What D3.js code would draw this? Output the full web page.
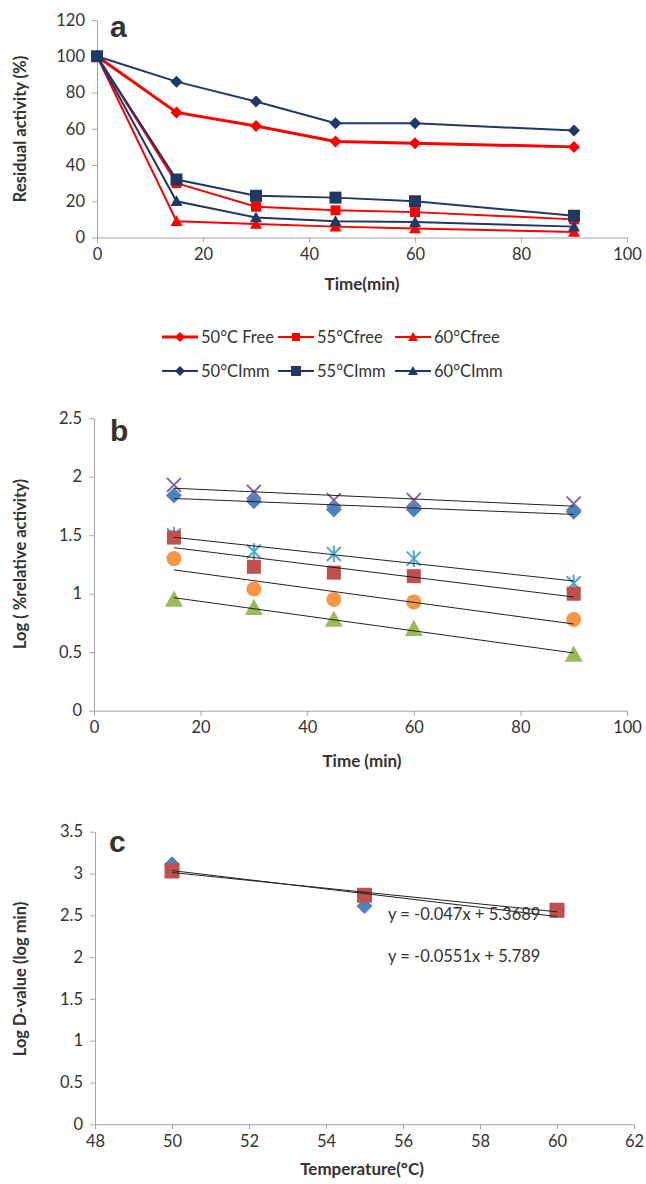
<!DOCTYPE html>
<html>
<head>
<meta charset="utf-8">
<script src="https://cdn.jsdelivr.net/npm/d3@7"></script>
<style>
  body { margin: 0; background: #fff; }
  svg { display: block; }
  text { font-family: Lato, "Open Sans", sans-serif; fill: #333; }
</style>
</head>
<body>
<svg id="chart" width="646" height="1184"></svg>
<script>
// panel a - residual activity
var timeA = [0, 15, 30, 45, 60, 90];
var namesA = ["50°C Free", "55°Cfree", "60°Cfree", "50°CImm", "55°CImm", "60°CImm"];
var free50 = [100, 69, 61.5, 53, 52, 50];
var free55 = [100, 30, 17, 15, 14, 10];
var free60 = [100, 9, 7.5, 6, 5, 3];
var imm50 = [100, 86, 75, 63, 63, 59];
var imm55 = [100, 32, 23, 22, 20, 12];
var imm60 = [100, 20, 11, 9, 8.5, 6];
var ticksA_y = [0, 20, 40, 60, 80, 100, 120];
var ticksA_x = [0, 20, 40, 60, 80, 100];

// panel b - log(% relative activity)
var timeB = [15, 30, 45, 60, 90];
var logFree50 = [1.84, 1.79, 1.72, 1.72, 1.70];
var logFree55 = [1.48, 1.23, 1.18, 1.15, 1.00];
var logFree60 = [0.95, 0.88, 0.78, 0.70, 0.48];
var logImm50 = [1.93, 1.87, 1.80, 1.80, 1.77];
var logImm55 = [1.50, 1.36, 1.34, 1.30, 1.09];
var logImm60 = [1.30, 1.04, 0.95, 0.93, 0.78];
var ticksB_y = [0, 0.5, 1, 1.5, 2, 2.5];
var ticksB_x = [0, 20, 40, 60, 80, 100];

// panel c - log D-value
var tempC = [50, 55, 60];
var logD1 = [3.11, 2.61, 2.56];
var logD2 = [3.03, 2.74, 2.56];
var equations = ["y = -0.047x + 5.3689", "y = -0.0551x + 5.789"];
var ticksC_y = [0, 0.5, 1, 1.5, 2, 2.5, 3, 3.5];
var ticksC_x = [48, 50, 52, 54, 56, 58, 60, 62];

var red = "#FF0000", navy = "#1F3864";
var svg = d3.select("#chart");

// marker shapes
function marker(type, r) {
  if (type == "diamond") return "M0," + (-r) + "L" + r + ",0L0," + r + "L" + (-r) + ",0Z";
  if (type == "square") return "M" + (-r) + "," + (-r) + "h" + (2*r) + "v" + (2*r) + "h" + (-2*r) + "Z";
  if (type == "triangle") return "M0," + (-r) + "L" + r + "," + (r*0.8) + "L" + (-r) + "," + (r*0.8) + "Z";
  if (type == "circle") return d3.symbol(d3.symbolCircle, Math.PI*r*r)();
  if (type == "x") return "M" + (-r) + "," + (-r) + "L" + r + "," + r + "M" + (-r) + "," + r + "L" + r + "," + (-r);
  if (type == "star") return "M" + (-r) + "," + (-r) + "L" + r + "," + r + "M" + (-r) + "," + r + "L" + r + "," + (-r) + "M0," + (-r*1.2) + "L0," + (r*1.2);
}

function drawAxes(x, y, xt, yt) {
  var gx = svg.append("g")
    .attr("transform", "translate(0," + y.range()[0] + ")")
    .call(d3.axisBottom(x).tickValues(xt).tickSize(5).tickPadding(6).tickSizeOuter(0));
  var gy = svg.append("g")
    .attr("transform", "translate(" + x.range()[0] + ",0)")
    .call(d3.axisLeft(y).tickValues(yt).tickSize(5).tickPadding(7).tickSizeOuter(0).tickFormat(d3.format("")));
  [gx, gy].forEach(function(g) {
    g.selectAll(".domain, line").attr("stroke", "#A6A6A6");
    g.selectAll("text").style("font-size", "16.5px").attr("fill", "#3a3a3a");
  });
}

function yTitle(txt, cy) {
  svg.append("text")
    .attr("transform", "translate(26," + cy + ") rotate(-90)")
    .attr("text-anchor", "middle")
    .style("font-size", "16.5px").style("font-weight", "bold").attr("fill", "#000")
    .text(txt);
}
function xTitle(txt, cy) {
  svg.append("text")
    .attr("x", 362).attr("y", cy)
    .attr("text-anchor", "middle")
    .style("font-size", "17px").style("font-weight", "bold").attr("fill", "#000")
    .text(txt);
}
function panelLetter(l, px, py) {
  svg.append("text").attr("x", px).attr("y", py)
    .style("font-family", "'Liberation Sans', Arial, sans-serif")
    .style("font-size", "30px").style("font-weight", "bold").attr("fill", "#000")
    .text(l);
}

// ---------- panel a ----------
var xA = d3.scaleLinear().domain([0, 100]).range([97, 627]);
var yA = d3.scaleLinear().domain([0, 120]).range([237.5, 20]);
drawAxes(xA, yA, ticksA_x, ticksA_y);

var seriesA = [
  {v: free50, c: red, m: "diamond", w: 3, r: 6},
  {v: free55, c: red, m: "square", w: 2, r: 5},
  {v: free60, c: red, m: "triangle", w: 2, r: 6},
  {v: imm50, c: navy, m: "diamond", w: 2, r: 6},
  {v: imm55, c: navy, m: "square", w: 2, r: 6},
  {v: imm60, c: navy, m: "triangle", w: 2, r: 6}
];
var lineA = d3.line().x(function(d, i) { return xA(timeA[i]); }).y(function(d) { return yA(d); });
seriesA.forEach(function(s) {
  svg.append("path").attr("d", lineA(s.v)).attr("fill", "none")
    .attr("stroke", s.c).attr("stroke-width", s.w);
});
seriesA.forEach(function(s) {
  svg.selectAll(null).data(s.v).enter().append("path")
    .attr("transform", function(d, i) { return "translate(" + xA(timeA[i]) + "," + yA(d) + ")"; })
    .attr("d", marker(s.m, s.r)).attr("fill", s.c);
});
panelLetter("a", 110, 37);
yTitle("Residual activity (%)", 129);
xTitle("Time(min)", 290);

// legend
var legX = [162, 278, 395], legY = [337, 371];
seriesA.forEach(function(s, i) {
  var lx = legX[i % 3], ly = legY[Math.floor(i / 3)];
  svg.append("line").attr("x1", lx).attr("x2", lx + 36).attr("y1", ly).attr("y2", ly)
    .attr("stroke", s.c).attr("stroke-width", s.w);
  svg.append("path").attr("transform", "translate(" + (lx + 18) + "," + ly + ")")
    .attr("d", marker(s.m, s.r - 1)).attr("fill", s.c);
  svg.append("text").attr("x", lx + 39).attr("y", ly + 6)
    .style("font-size", "16.5px").attr("fill", "#3a3a3a").text(namesA[i]);
});

// ---------- panel b ----------
var xB = d3.scaleLinear().domain([0, 100]).range([94, 627]);
var yB = d3.scaleLinear().domain([0, 2.5]).range([710.7, 418.2]);
drawAxes(xB, yB, ticksB_x, ticksB_y);

var seriesB = [
  {v: logImm50, c: "#8064A2", m: "x", r: 7},
  {v: logFree50, c: "#4F81BD", m: "diamond", r: 8},
  {v: logImm55, c: "#4BACC6", m: "star", r: 7},
  {v: logFree55, c: "#C0504D", m: "square", r: 7},
  {v: logImm60, c: "#F79646", m: "circle", r: 7.5},
  {v: logFree60, c: "#9BBB59", m: "triangle", r: 9}
];

function fit(xs, ys) {
  var mx = d3.mean(xs), my = d3.mean(ys);
  var sxy = d3.sum(xs, function(x, i) { return (x - mx) * (ys[i] - my); });
  var sxx = d3.sum(xs, function(x) { return (x - mx) * (x - mx); });
  var b = sxy / sxx;
  return function(x) { return my + b * (x - mx); };
}

seriesB.forEach(function(s) {
  svg.selectAll(null).data(s.v).enter().append("path")
    .attr("transform", function(d, i) { return "translate(" + xB(timeB[i]) + "," + yB(d) + ")"; })
    .attr("d", marker(s.m, s.r))
    .attr("fill", (s.m == "x" || s.m == "star") ? "none" : s.c)
    .attr("stroke", (s.m == "x" || s.m == "star") ? s.c : "none")
    .attr("stroke-width", 2);
});
seriesB.forEach(function(s) {
  var f = fit(timeB, s.v);
  var x0 = d3.min(timeB), x1 = d3.max(timeB);
  svg.append("line").attr("x1", xB(x0)).attr("y1", yB(f(x0)))
    .attr("x2", xB(x1)).attr("y2", yB(f(x1)))
    .attr("stroke", "#222").attr("stroke-width", 1);
});
panelLetter("b", 110, 441);
yTitle("Log ( %relative activity)", 564);
xTitle("Time (min)", 767);

// ---------- panel c ----------
var xC = d3.scaleLinear().domain([48, 62]).range([95, 634]);
var yC = d3.scaleLinear().domain([0, 3.5]).range([1124.3, 831.7]);
drawAxes(xC, yC, ticksC_x, ticksC_y);

var seriesC = [
  {v: logD1, c: "#4F81BD", m: "diamond", r: 8},
  {v: logD2, c: "#C0504D", m: "square", r: 7.5}
];
seriesC.forEach(function(s) {
  svg.selectAll(null).data(s.v).enter().append("path")
    .attr("transform", function(d, i) { return "translate(" + xC(tempC[i]) + "," + yC(d) + ")"; })
    .attr("d", marker(s.m, s.r)).attr("fill", s.c);
});
seriesC.forEach(function(s) {
  var f = fit(tempC, s.v);
  svg.append("line").attr("x1", xC(50)).attr("y1", yC(f(50)))
    .attr("x2", xC(60)).attr("y2", yC(f(60)))
    .attr("stroke", "#222").attr("stroke-width", 1);
});
equations.forEach(function(t, i) {
  svg.append("text").attr("x", 388).attr("y", 920 + i * 42)
    .style("font-size", "16.5px").attr("fill", "#222").text(t);
});
panelLetter("c", 109, 852);
yTitle("Log D-value (log min)", 979);
xTitle("Temperature(°C)", 1175);
</script>
</body>
</html>
